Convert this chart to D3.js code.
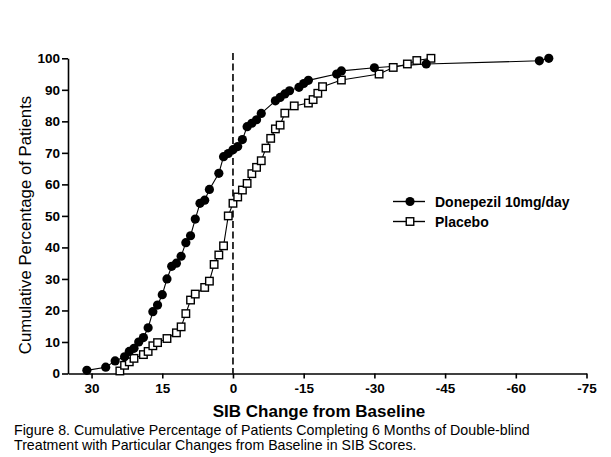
<!DOCTYPE html>
<html>
<head>
<meta charset="utf-8">
<script src="https://cdn.jsdelivr.net/npm/d3@7"></script>
<style>
  body { margin: 0; background: #fff; }
  svg { display: block; font-family: Arial, "Liberation Sans", sans-serif; }
</style>
</head>
<body>
<div id="chart"></div>
<script>
// SIB change from baseline (positive = decline on the left)
const donepezilX = [31, 27, 25, 23, 22, 21, 20, 19, 18, 17, 16, 15, 14, 13, 12, 11, 10, 9, 8, 7, 6, 5, 3, 2, 1, 0,
  -1, -2, -3, -4, -5, -6, -9, -10, -11, -12, -14, -15, -16, -22, -23, -30, -41, -65, -67];
const donepezilY = [1, 2, 4, 5.3, 7, 8, 10, 11.4, 14.5, 19.6, 21.7, 25, 30, 34, 35, 37.2, 41.5, 43.7, 49, 54, 55, 58.4, 63.5, 68.8, 69.8, 71,
  72, 74.2, 78.3, 79.4, 80.5, 82.5, 86.5, 87.6, 88.7, 89.7, 90.8, 92, 93, 95, 96, 97, 98.2, 99.2, 100];

const placeboX = [24, 23, 22, 21, 19, 18, 17, 16, 14, 12, 11, 10, 9, 8, 6, 5, 4, 3, 2, 1, 0,
  -1, -2, -3, -4, -5, -6, -7, -8, -9, -10, -11, -13, -16, -17, -18, -19, -23, -31, -34, -37, -39, -42];
const placeboY = [0.8, 2.6, 3.7, 4.8, 6, 7, 8.8, 9.8, 11.1, 12.9, 14.8, 19, 23.3, 25.2, 27.3, 29.3, 34.6, 37.6, 40.5, 50, 54,
  56, 58.2, 60.3, 63.4, 65.4, 67.5, 71.5, 74.6, 77.6, 78.8, 82.6, 84.9, 85.8, 86.9, 88.9, 91, 93.1, 95, 97.1, 98.2, 99.3, 100];

const xTicks = [30, 15, 0, -15, -30, -45, -60, -75];
const yTicks = [0, 10, 20, 30, 40, 50, 60, 70, 80, 90, 100];
const legendLabels = ["Donepezil 10mg/day", "Placebo"];
const captionLines = [
  "Figure 8. Cumulative Percentage of Patients Completing 6 Months of Double-blind",
  "Treatment with Particular Changes from Baseline in SIB Scores."
];

const W = 611, H = 457;
const svg = d3.select("#chart").append("svg")
  .attr("width", W).attr("height", H);

const x = d3.scaleLinear().domain([35, -75]).range([68, 586.5]);
const y = d3.scaleLinear().domain([0, 100]).range([373.5, 58.3]);

// axes (plain hyphen for negatives, like the original)
const xAxis = svg.append("g")
  .attr("transform", "translate(0," + y(0) + ")")
  .call(d3.axisBottom(x).tickValues(xTicks).tickFormat(d => String(d))
    .tickSize(5).tickSizeOuter(0).tickPadding(5));
const yAxis = svg.append("g")
  .attr("transform", "translate(" + x(35) + ",0)")
  .call(d3.axisLeft(y).tickValues(yTicks).tickSize(6).tickSizeOuter(0).tickPadding(2));

[xAxis, yAxis].forEach(g => {
  g.selectAll("path, line").attr("stroke", "#000").attr("stroke-width", 1.6);
  g.selectAll("text").attr("fill", "#000")
    .style("font-size", "13.5px").style("font-weight", "bold")
    .style("font-family", "Arial, 'Liberation Sans', sans-serif");
});

// dashed zero line
svg.append("line")
  .attr("x1", x(0)).attr("x2", x(0))
  .attr("y1", 53).attr("y2", y(0))
  .attr("stroke", "#000").attr("stroke-width", 1.6)
  .attr("stroke-dasharray", "7,3.5");

const line = d3.line().x(d => x(d[0])).y(d => y(d[1]));

const donepezil = donepezilX.map((v, i) => [v, donepezilY[i]]);
const placebo = placeboX.map((v, i) => [v, placeboY[i]]);

svg.append("path").datum(placebo)
  .attr("d", line).attr("fill", "none").attr("stroke", "#000").attr("stroke-width", 1.1);
svg.append("path").datum(donepezil)
  .attr("d", line).attr("fill", "none").attr("stroke", "#000").attr("stroke-width", 1.1);

const sq = 7.5;
svg.selectAll("rect.placebo").data(placebo).enter().append("rect")
  .attr("class", "placebo")
  .attr("x", d => x(d[0]) - sq / 2).attr("y", d => y(d[1]) - sq / 2)
  .attr("width", sq).attr("height", sq)
  .attr("fill", "#fff").attr("stroke", "#000").attr("stroke-width", 1.4);

svg.selectAll("circle.donepezil").data(donepezil).enter().append("circle")
  .attr("class", "donepezil")
  .attr("cx", d => x(d[0])).attr("cy", d => y(d[1]))
  .attr("r", 4.6).attr("fill", "#000");

// legend
const leg = svg.append("g");
[201.5, 221.5].forEach((ly, i) => {
  leg.append("line").attr("x1", 393).attr("x2", 425).attr("y1", ly).attr("y2", ly)
    .attr("stroke", "#000").attr("stroke-width", 1.4);
  if (i === 0) {
    leg.append("circle").attr("cx", 410).attr("cy", ly).attr("r", 4.6).attr("fill", "#000");
  } else {
    leg.append("rect").attr("x", 410 - sq / 2).attr("y", ly - sq / 2).attr("width", sq).attr("height", sq)
      .attr("fill", "#fff").attr("stroke", "#000").attr("stroke-width", 1.4);
  }
  leg.append("text").attr("x", 435).attr("y", ly).attr("dy", "0.36em")
    .style("font-size", "14px").style("font-weight", "bold")
    .text(legendLabels[i]);
});

// axis titles
svg.append("text")
  .attr("transform", "translate(31,225) rotate(-90)")
  .attr("text-anchor", "middle")
  .style("font-size", "16.8px")
  .text("Cumulative Percentage of Patients");

svg.append("text")
  .attr("x", 319).attr("y", 417)
  .attr("text-anchor", "middle")
  .style("font-size", "17px").style("font-weight", "bold")
  .text("SIB Change from Baseline");

// caption
svg.selectAll("text.caption").data(captionLines).enter().append("text")
  .attr("class", "caption")
  .attr("x", 14).attr("y", (d, i) => 435 + i * 14.5)
  .style("font-size", "14.2px")
  .text(d => d);
</script>
</body>
</html>
